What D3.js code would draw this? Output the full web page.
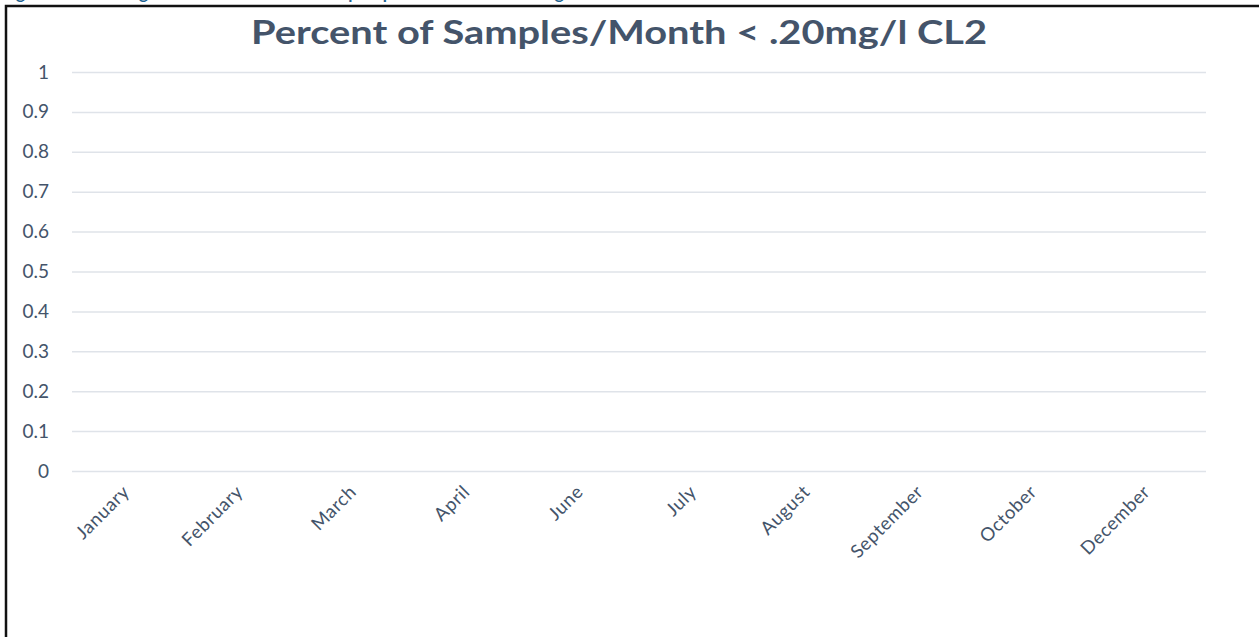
<!DOCTYPE html>
<head>
<meta charset="UTF-8">
<title>Percent of Samples/Month &lt; .20mg/l CL2</title>
<style>
body { margin: 0; background: #fff; }
.grid line { stroke: #dfe3e9; stroke-width: 1.5px; }
.tick text { font-family: Lato, sans-serif; font-size: 19px; fill: #44546a; }
.xaxis .tick text { font-size: 18.5px; letter-spacing: 0.6px; }
.title { font-family: Lato, sans-serif; font-weight: bold; font-size: 33px; fill: #44546a; }
.caption { font-family: Lato, sans-serif; font-weight: bold; font-size: 17px; fill: #1f6391; }
</style>
<body>
<script src="https://cdn.jsdelivr.net/npm/d3@7"></script>
<script>

// months shown on the category axis (May and November are missing in the source)
var months = ["January", "February", "March", "April", "June",
              "July", "August", "September", "October", "December"];

// share of samples below .20 mg/l - every month reads as zero
var values = [0, 0, 0, 0, 0, 0, 0, 0, 0, 0];

// value axis ticks
var yTicks = [0, 0.1, 0.2, 0.3, 0.4, 0.5, 0.6, 0.7, 0.8, 0.9, 1];

var W = 1259, H = 637;
var margin = {top: 72, right: 53, bottom: 166, left: 72};

var svg = d3.select("body").append("svg")
    .attr("width", W)
    .attr("height", H);

// caption of the document, cut off by the top of the page
svg.append("text")
    .attr("class", "caption")
    .attr("x", 2)
    .attr("y", -1)
    .text("Figure 2: Percentage of Chlorine Residual Samples per Month below .20mg/l");

// frame round the chart
svg.append("rect")
    .attr("x", 6)
    .attr("y", 6)
    .attr("width", W + 20)
    .attr("height", H + 20)
    .attr("fill", "none")
    .attr("stroke", "#111")
    .attr("stroke-width", 2.5);

var x = d3.scaleBand()
    .domain(months)
    .range([margin.left, W - margin.right]);

var y = d3.scaleLinear()
    .domain([0, 1])
    .range([H - margin.bottom, margin.top]);

// gridlines + labels of the value axis
var yAxis = svg.append("g")
    .attr("class", "grid")
    .attr("transform", "translate(" + margin.left + ",0)")
    .call(d3.axisLeft(y)
        .tickValues(yTicks)
        .tickFormat(d3.format("~g"))
        .tickSize(-(W - margin.right - margin.left))
        .tickPadding(23));
yAxis.select(".domain").remove();
yAxis.attr("font-size", null);

// category axis, labels turned 45 degrees
var xAxis = svg.append("g")
    .attr("class", "xaxis")
    .attr("transform", "translate(0," + (H - margin.bottom) + ")")
    .call(d3.axisBottom(x).tickSize(0).tickPadding(0));
xAxis.select(".domain").remove();
xAxis.attr("font-size", null);
xAxis.selectAll(".tick text")
    .attr("text-anchor", "end")
    .attr("dy", null)
    .attr("y", 0)
    .attr("transform", "translate(2,22) rotate(-45)");

// bars (all zero height)
svg.append("g").selectAll("rect")
    .data(values)
    .join("rect")
    .attr("x", function(d, i) { return x(months[i]) + x.bandwidth() * 0.2; })
    .attr("width", x.bandwidth() * 0.6)
    .attr("y", function(d) { return y(d); })
    .attr("height", function(d) { return y(0) - y(d); })
    .attr("fill", "#4472c4");

// title
svg.append("text")
    .attr("class", "title")
    .attr("x", 619)
    .attr("y", 44)
    .attr("text-anchor", "middle")
    .attr("textLength", 736)
    .attr("lengthAdjust", "spacingAndGlyphs")
    .text("Percent of Samples/Month < .20mg/l CL2");

</script>
</body>
